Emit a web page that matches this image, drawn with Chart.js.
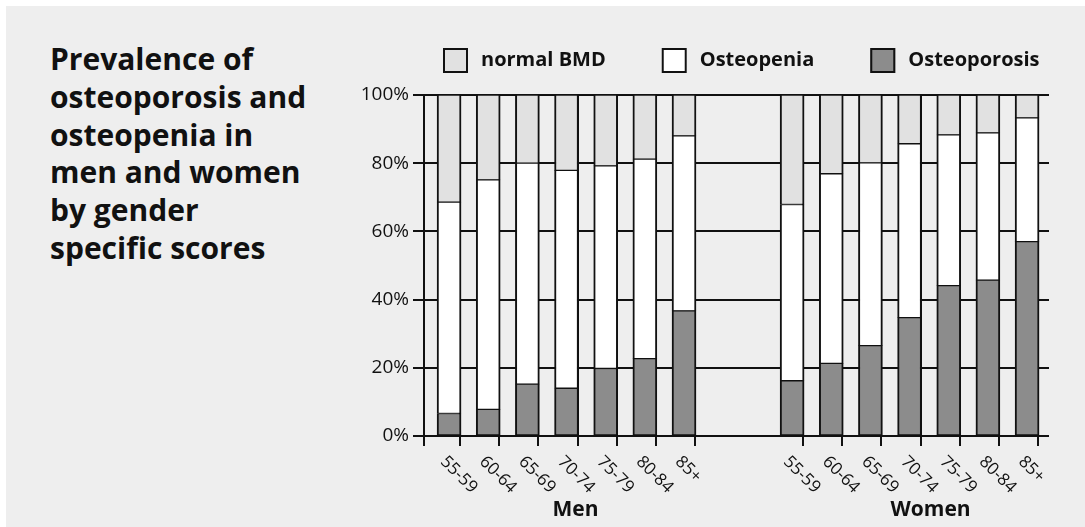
<!DOCTYPE html>
<html>
<head>
<meta charset="utf-8">
<script src="https://cdn.jsdelivr.net/npm/chart.js@4.4.1/dist/chart.umd.min.js"></script>
<style>
  html, body { margin: 0; padding: 0; background: #ffffff; }
  body { width: 1085px; height: 527px; position: relative; overflow: hidden; font-family: 'Open Sans', sans-serif; }
  #panel { position: absolute; left: 6px; top: 6px; right: 0; bottom: 0; background: #eeeeee; }
  #title { position: absolute; left: 50px; top: 40px; margin: 0; font-size: 30px; font-weight: 700;
           line-height: 37.8px; color: #111111; }
  #wrap { position: absolute; left: 0; top: 0; width: 1085px; height: 527px; }
</style>
</head>
<body>
<div id="panel"></div>
<h1 id="title"></h1>
<div id="wrap"><canvas id="chart"></canvas></div>
<script>
// ---- data -------------------------------------------------------------
const TITLE_LINES = ['Prevalence of', 'osteoporosis and', 'osteopenia in', 'men and women', 'by gender', 'specific scores'];
const AGE_GROUPS = ['55-59', '60-64', '65-69', '70-74', '75-79', '80-84', '85+'];
const SEXES = ['Men', 'Women'];
const SERIES_NAMES = ['Osteoporosis', 'Osteopenia', 'normal BMD'];   // bottom to top
const Y_TICKS = [0, 20, 40, 60, 80, 100];

// share of each age group (%), men then women
const menOsteoporosis   = [6.6, 7.8, 15.2, 14.0, 19.8, 22.7, 36.7];
const menOsteopenia     = [62.0, 67.3, 64.8, 63.9, 59.4, 58.5, 51.3];
const menNormal         = [31.4, 24.9, 20.0, 22.1, 20.8, 18.8, 12.0];
const womenOsteoporosis = [16.2, 21.3, 26.5, 34.7, 44.1, 45.7, 57.0];
const womenOsteopenia   = [51.7, 55.6, 53.6, 51.0, 44.2, 43.2, 36.3];
const womenNormal       = [32.1, 23.1, 19.9, 14.3, 11.7, 11.1, 6.7];

// ---- styling ----------------------------------------------------------
const INK = '#111111';
const FILLS = ['#8c8c8c', '#ffffff', '#e1e1e1'];
const BAR_THICKNESS = 24;
const FONT = "'Open Sans', sans-serif";

document.getElementById('title').innerHTML = TITLE_LINES.join('<br>');

// Category scale that leaves a wider gap between the two sex groups
class GappedCategoryScale extends Chart.CategoryScale {
  getPixelForValue(value) {
    if (typeof value !== 'number') value = this.parse(value);
    if (value === null || value === undefined) return NaN;
    const s = this.options.slots;
    const n = this.getLabels().length;
    const slot = s.lead + value + (value >= s.groupSize ? s.gap : 0);
    const total = s.lead + (n - 1) + s.gap + s.trail;
    return this.getPixelForDecimal(slot / total);
  }
}
GappedCategoryScale.id = 'gappedCategory';
GappedCategoryScale.defaults = Chart.CategoryScale.defaults;
Chart.register(GappedCategoryScale);

const labels = SEXES.flatMap(() => AGE_GROUPS);
const seriesValues = [
  menOsteoporosis.concat(womenOsteoporosis),
  menOsteopenia.concat(womenOsteopenia),
  menNormal.concat(womenNormal)
];

// Vertical rules, tick marks, rotated age labels and group names along the bottom
const groupAxisPlugin = {
  id: 'groupAxis',
  beforeDatasetsDraw(chart, args, opts) {
    const { ctx, chartArea: { top, bottom, left } } = chart;
    const xs = chart.scales.x;
    ctx.save();
    ctx.strokeStyle = INK;
    ctx.lineWidth = 2;
    ctx.beginPath();
    xs.ticks.forEach((t, i) => {
      const px = Math.round(xs.getPixelForTick(i) + BAR_THICKNESS / 2) - 1;
      ctx.moveTo(px, top);
      ctx.lineTo(px, bottom + opts.tickLength);
    });
    ctx.moveTo(left, bottom);
    ctx.lineTo(left, bottom + opts.tickLength);
    ctx.stroke();
    ctx.restore();
  },
  afterDraw(chart, args, opts) {
    const { ctx, chartArea: { bottom } } = chart;
    const xs = chart.scales.x;
    ctx.save();
    ctx.fillStyle = INK;
    ctx.font = `${opts.tickFontSize}px ${FONT}`;
    ctx.textAlign = 'left';
    ctx.textBaseline = 'middle';
    xs.ticks.forEach((t, i) => {
      ctx.save();
      ctx.translate(xs.getPixelForTick(i) + opts.labelDx, bottom + opts.labelDy);
      ctx.rotate(Math.PI / 4);
      ctx.fillText(labels[i], 0, 0);
      ctx.restore();
    });
    ctx.font = `bold ${opts.groupFontSize}px ${FONT}`;
    ctx.textAlign = 'center';
    SEXES.forEach((name, g) => {
      const first = xs.getPixelForValue(g * AGE_GROUPS.length);
      const last = xs.getPixelForValue(g * AGE_GROUPS.length + AGE_GROUPS.length - 1);
      ctx.fillText(name, (first + last) / 2 + opts.groupNudge[g], opts.groupY);
    });
    ctx.restore();
  }
};

// Legend row: outlined swatch followed by a bold label, top series first
const swatchLegendPlugin = {
  id: 'swatchLegend',
  afterDraw(chart, args, opts) {
    const { ctx } = chart;
    ctx.save();
    ctx.font = `bold ${opts.fontSize}px ${FONT}`;
    ctx.textBaseline = 'middle';
    ctx.textAlign = 'left';
    let x = opts.x;
    chart.data.datasets.slice().reverse().forEach(ds => {
      ctx.fillStyle = ds.backgroundColor;
      ctx.fillRect(x, opts.y, opts.boxW, opts.boxH);
      ctx.strokeStyle = INK;
      ctx.lineWidth = 2;
      ctx.strokeRect(x + 1, opts.y + 1, opts.boxW - 2, opts.boxH - 2);
      ctx.fillStyle = INK;
      const tx = x + opts.boxW + opts.textGap;
      ctx.fillText(ds.label, tx, opts.y + opts.boxH / 2);
      x = tx + ctx.measureText(ds.label).width + opts.itemGap;
    });
    ctx.restore();
  }
};

Chart.defaults.font.family = FONT;
Chart.defaults.color = INK;

new Chart(document.getElementById('chart'), {
  type: 'bar',
  data: {
    labels,
    datasets: SERIES_NAMES.map((name, k) => ({
      label: name,
      data: seriesValues[k],
      backgroundColor: FILLS[k],
      borderColor: INK,
      borderWidth: { left: 2, right: 2, top: 1, bottom: 1 },
      borderSkipped: false,
      barThickness: BAR_THICKNESS
    }))
  },
  options: {
    responsive: true,
    maintainAspectRatio: false,
    animation: false,
    events: [],
    layout: { padding: { left: 354, top: 95, right: 36, bottom: 91 } },
    plugins: {
      legend: { display: false },
      tooltip: { enabled: false },
      title: { display: false },
      groupAxis: { tickLength: 10, tickFontSize: 17, labelDx: -6, labelDy: 23, groupFontSize: 21, groupY: 510, groupNudge: [9, 21] },
      swatchLegend: { x: 443, y: 48, boxW: 25, boxH: 25, textGap: 13, itemGap: 56, fontSize: 20 }
    },
    scales: {
      x: {
        type: 'gappedCategory',
        display: false,
        stacked: true,
        offset: false,
        slots: { groupSize: AGE_GROUPS.length, lead: 0.64, gap: 1.76, trail: 0.56 }
      },
      y: {
        stacked: true,
        min: Y_TICKS[0],
        max: Y_TICKS[Y_TICKS.length - 1],
        afterBuildTicks(scale) { scale.ticks = Y_TICKS.map(v => ({ value: v })); },
        afterFit(scale) { scale.width = 70; },
        ticks: { callback: v => v + '%', font: { size: 19 }, color: INK, padding: 4 },
        grid: { color: INK, lineWidth: 2, tickLength: 11, drawTicks: true },
        border: { display: true, color: INK, width: 2 }
      }
    }
  },
  plugins: [groupAxisPlugin, swatchLegendPlugin]
});
</script>
</body>
</html>
